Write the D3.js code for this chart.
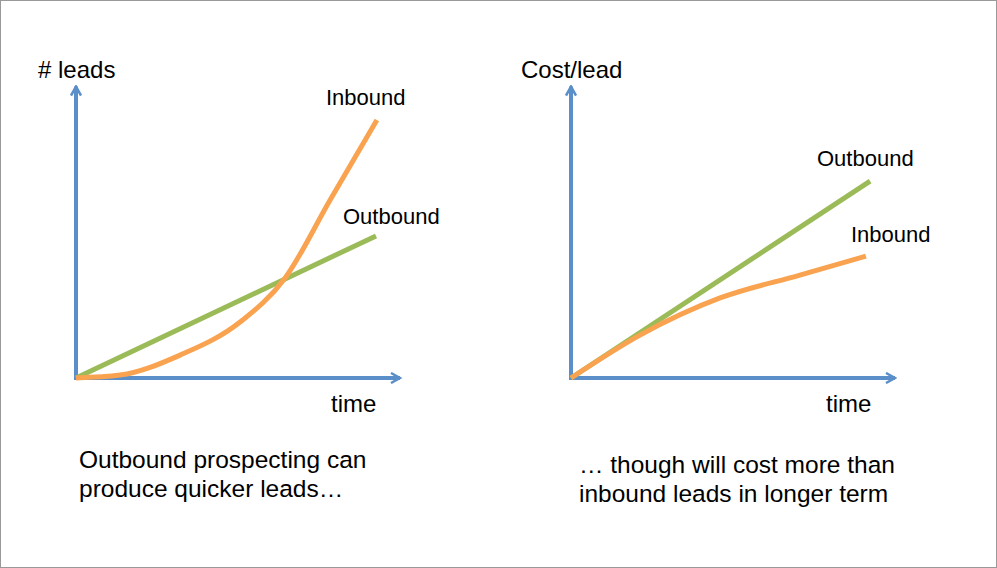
<!DOCTYPE html>
<html><head><meta charset="utf-8">
<script src="https://cdn.jsdelivr.net/npm/d3@7"></script>
<style>
body{margin:0;background:#fff;}
text{font-family:"Liberation Sans",Arial,sans-serif;fill:#000;}
</style></head>
<body><svg id="fig"></svg>
<script>
var W = 997, H = 568;

// data in abstract units: time 0..10, value 0..10
var leadsOutbound = [[0, 0], [10, 4.9]];
var leadsInbound = [[0, 0], [1.47, 0.1], [3.47, 0.79], [5.47, 1.93], [6.97, 3.45], [8.47, 6.14], [10.03, 8.9]];
var costOutbound = [[0, 0], [9.97, 6.79]];
var costInbound = [[0, 0], [2.3, 1.48], [4.97, 2.76], [7.63, 3.55], [9.83, 4.2]];
var panelTitles = ["# leads", "Cost/lead"];
var captions = [["Outbound prospecting can", "produce quicker leads…"],
                ["… though will cost more than", "inbound leads in longer term"]];

var blue = "#5b8fc9", green = "#9bbb59", orange = "#f9a350";

var svg = d3.select("#fig").attr("width", W).attr("height", H);
svg.append("rect").attr("x", 0.5).attr("y", 0.5).attr("width", W - 1).attr("height", H - 1)
  .attr("fill", "none").attr("stroke", "#999");

var defs = svg.append("defs");
defs.append("marker").attr("id", "arr").attr("viewBox", "0 0 12 12")
  .attr("refX", 10).attr("refY", 6).attr("markerWidth", 12).attr("markerHeight", 12)
  .attr("markerUnits", "userSpaceOnUse").attr("orient", "auto")
  .append("path").attr("d", "M1,1 L10,6 L1,11").attr("fill", "none")
  .attr("stroke", blue).attr("stroke-width", 2.5).attr("stroke-linejoin", "miter");

function panel(ox, title, titleX, outbound, inbound, labOut, labIn, caption, capX, capY) {
  var x = d3.scaleLinear().domain([0, 10]).range([ox, ox + 300]);
  var y = d3.scaleLinear().domain([0, 10]).range([378, 88]);
  var g = svg.append("g");
  // axes
  g.append("line").attr("x1", x(0)).attr("y1", y(0)).attr("x2", x(0)).attr("y2", y(10.05))
    .attr("stroke", blue).attr("stroke-width", 4).attr("marker-end", "url(#arr)");
  g.append("line").attr("x1", x(0) - 2).attr("y1", y(0)).attr("x2", x(10.8)).attr("y2", y(0))
    .attr("stroke", blue).attr("stroke-width", 4).attr("marker-end", "url(#arr)");
  var line = d3.line().x(function(d) { return x(d[0]); }).y(function(d) { return y(d[1]); })
    .curve(d3.curveMonotoneX);
  g.append("path").attr("d", line(outbound)).attr("fill", "none").attr("stroke", green).attr("stroke-width", 5);
  g.append("path").attr("d", line(inbound)).attr("fill", "none").attr("stroke", orange).attr("stroke-width", 5);
  g.append("text").attr("x", titleX).attr("y", 78).attr("font-size", 24).text(title);
  g.append("text").attr("x", labOut[0]).attr("y", labOut[1]).attr("font-size", 22).text("Outbound");
  g.append("text").attr("x", labIn[0]).attr("y", labIn[1]).attr("font-size", 22).text("Inbound");
  g.append("text").attr("x", ox + 255).attr("y", 412).attr("font-size", 24).text("time");
  caption.forEach(function(c, i) {
    g.append("text").attr("x", capX).attr("y", capY + i * 29).attr("font-size", 24.5).text(c);
  });
}

panel(76, panelTitles[0], 38, leadsOutbound, leadsInbound, [343, 224], [326, 105], captions[0], 79, 468);
panel(571, panelTitles[1], 521, costOutbound, costInbound, [817, 166], [851, 242], captions[1], 579, 473);
</script></body></html>
